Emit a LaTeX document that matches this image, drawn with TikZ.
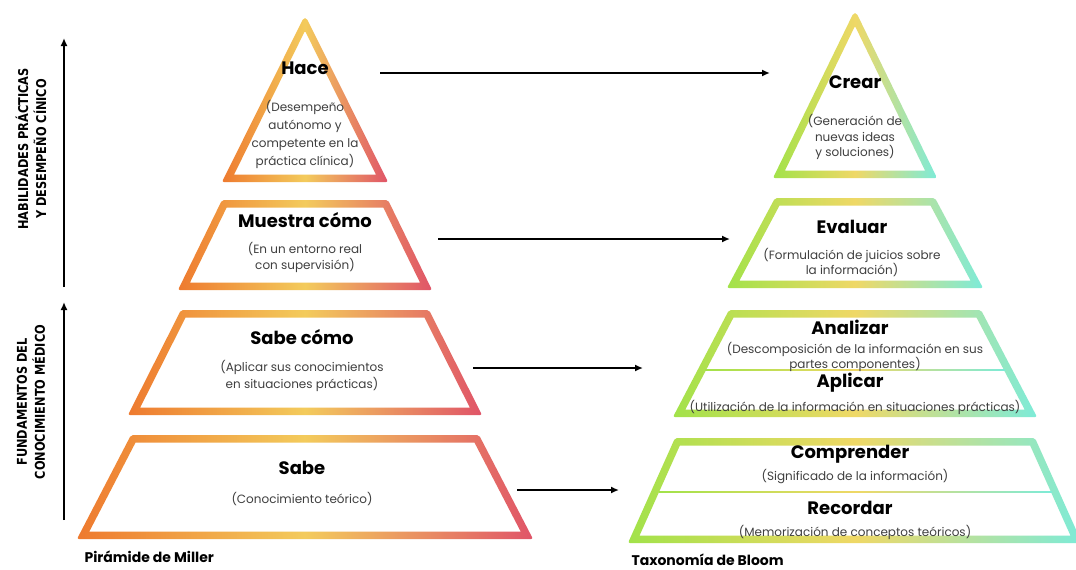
\documentclass[tikz,border=0pt]{standalone}
\usepackage{fontspec}
\setmainfont{Poppins}
\newfontfamily\sidefont{DejaVu Sans}[FakeStretch=0.84]
\usetikzlibrary{arrows.meta,positioning}
\definecolor{millerL}{HTML}{EE7A2F}
\definecolor{millerM}{HTML}{F3CB5C}
\definecolor{millerR}{HTML}{E05468}
\definecolor{bloomL}{HTML}{A2E24A}
\definecolor{bloomM}{HTML}{EFD866}
\definecolor{bloomR}{HTML}{7DEBD8}
\definecolor{subgray}{HTML}{3F3F3F}

% stroke width of the tier outlines
\newcommand{\lw}{7.5}
% \tier{cx}{top}{bottom}{top half width}{bottom half width}{shading style}
\newcommand{\tier}[6]{%
  \pgfmathsetmacro{\kk}{(#5-#4)/(#3-#2)}%
  \pgfmathsetmacro{\hh}{\lw*100*sqrt(((#5-#4)/100)^2+((#3-#2)/100)^2)/(#3-#2)}%
  \pgfmathsetmacro{\ti}{#2+max(\lw,(\hh-#4)/\kk)}%
  \pgfmathsetmacro{\wti}{max(#4-\hh+\lw*\kk,0.5)}%
  \pgfmathsetmacro{\wbi}{#5-\hh-\lw*\kk}%
  \pgfmathsetmacro{\bi}{#3-\lw}%
  \shade[#6,even odd rule]
    [rounded corners=2pt] (#1-#4,#2) -- (#1+#4,#2) -- (#1+#5,#3) -- (#1-#5,#3) -- cycle
    [sharp corners] (#1-\wti,\ti) -- (#1+\wti,\ti) -- (#1+\wbi,\bi) -- (#1-\wbi,\bi) -- cycle;}

\begin{document}
\begin{tikzpicture}[x=1pt,y=-1pt,
 miller/.style={left color=millerL,right color=millerR,middle color=millerM},
 bloom/.style={left color=bloomL,right color=bloomR,middle color=bloomM},
 head/.style={font=\fontsize{18}{20}\selectfont\bfseries,text=black},
 desc/.style={font=\fontsize{12}{16}\selectfont,text=subgray,align=center},
 side/.style={font=\sidefont\fontsize{13.5}{18}\selectfont\bfseries,align=center,rotate=90},
 title/.style={font=\fontsize{14}{16}\selectfont\bfseries,anchor=west},
 arr/.style={-{Latex[length=8pt,width=7pt]},line width=1.6pt},
 axis/.style={-{Latex[length=8pt,width=7pt]},line width=2pt}]
\useasboundingbox (0,0) rectangle (1076,570);
\fill[white] (0,0) rectangle (1076,570);

% Miller
\tier{305}{18}{182}{1.5}{83}{miller}
\tier{305}{200}{290}{83}{127}{miller}
\tier{305}{310}{415}{124}{177}{miller}
\tier{305}{435}{539}{174}{228}{miller}
\node[head] (hace) at (305,68) {Hace};
\node[desc,font=\fontsize{12}{18}\selectfont] (hace-d) at (305,134) {(Desempeño\\autónomo y\\competente en la\\práctica clínica)};
\node[head] (muestra) at (305,220) {Muestra cómo};
\node[desc] (muestra-d) at (305,257) {(En un entorno real\\con supervisión)};
\node[head] (sabecomo) at (302,337) {Sabe cómo};
\node[desc,font=\fontsize{12}{17}\selectfont] (sabecomo-d) at (302,376) {(Aplicar sus conocimientos\\en situaciones prácticas)};
\node[head] (sabe) at (302,468) {Sabe};
\node[desc] (sabe-d) at (302,499) {(Conocimiento teórico)};
\node[title] (miller) at (81,557) {Pirámide de Miller};

% Bloom
\tier{855}{13}{178}{1.5}{82}{bloom}
\tier{855}{198}{288}{80}{128}{bloom}
\tier{855}{310}{417}{126}{182}{bloom}
\tier{855}{438}{543}{180}{227}{bloom}
\shade[bloom] (705,369.2) rectangle (1005,370.8);
\shade[bloom] (659,491.2) rectangle (1052,492.8);
\node[head] (crear) at (855,82) {Crear};
\node[desc,font=\fontsize{12}{15.5}\selectfont] (crear-d) at (855,137) {(Generación de\\nuevas ideas\\y soluciones)};
\node[head] (evaluar) at (852,227) {Evaluar};
\node[desc,font=\fontsize{12}{15}\selectfont] (evaluar-d) at (852,263) {(Formulación de juicios sobre\\la información)};
\node[head] (analizar) at (850,327) {Analizar};
\node[desc,font=\fontsize{12}{11}\selectfont] (analizar-d) at (855,357) {(Descomposición de la información en sus\\partes componentes)};
\node[head] (aplicar) at (850,383) {Aplicar};
\node[desc] (aplicar-d) at (855,407) {(Utilización de la información en situaciones prácticas)};
\node[head] (comprender) at (850,454) {Comprender};
\node[desc] (comprender-d) at (855,477) {(Significado de la información)};
\node[head] (recordar) at (850,508) {Recordar};
\node[desc] (recordar-d) at (855,532) {(Memorización de conceptos teóricos)};
\node[title] (bloom) at (628,560) {Taxonomía de Bloom};

% side axes
\coordinate (up1-s) at (64,287); \coordinate (up1-e) at (64,38);
\coordinate (up2-s) at (64,520); \coordinate (up2-e) at (64,302);
\draw[axis] (up1-s) -- (up1-e);
\draw[axis] (up2-s) -- (up2-e);
\node[side] (practica) at (31,149) {HABILIDADES PRÁCTICAS\\Y DESEMPEÑO CÍNICO};
\node[side] (fundamento) at (31,402) {FUNDAMENTOS DEL\\CONOCIMIENTO MÉDICO};

% links
\coordinate (l1) at (380,73); \coordinate (r1) at (770,73);
\coordinate (l2) at (438,239); \coordinate (r2) at (730,239);
\coordinate (l3) at (473,368); \coordinate (r3) at (643,368);
\coordinate (l4) at (517,490); \coordinate (r4) at (619,490);
\foreach \i in {1,...,4} \draw[arr] (l\i) -- (r\i);
\end{tikzpicture}
\end{document}
